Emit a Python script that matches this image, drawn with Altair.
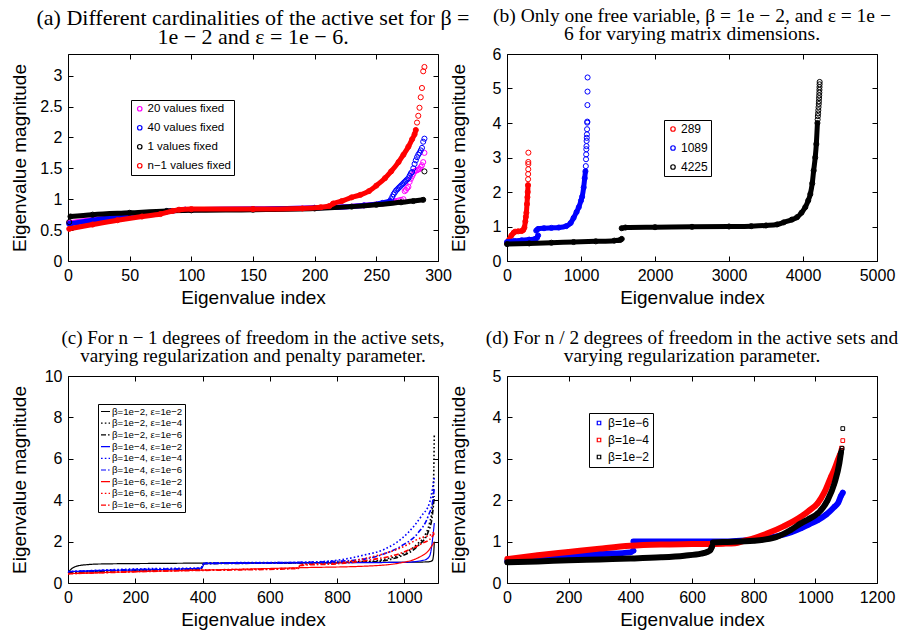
import altair as alt
import pandas as pd

# ---------------- (a) ----------------
A_NAMES = ["20 values fixed", "40 values fixed", "1 values fixed", "n−1 values fixed"]
A_COLORS = ["#ff00ff", "#0000ff", "#000000", "#ff0000"]

a20_idx = [1, 20, 50, 80, 95, 150, 200, 240, 255, 265]
a20_val = [0.62, 0.67, 0.74, 0.80, 0.83, 0.84, 0.86, 0.90, 0.93, 0.96]
a20_tail_idx = [266, 268, 270, 272, 273, 274, 275, 276, 277, 278, 279, 280, 281, 282, 283, 284, 285, 286, 287, 288, 289]
a20_tail_val = [0.97, 0.98, 0.99, 1.00, 1.13, 1.15, 1.18, 1.20, 1.28, 1.33, 1.37, 1.41, 1.45, 1.46, 1.47, 1.48, 1.49, 1.52, 1.55, 1.60, 1.75]

a40_idx = [1, 20, 50, 80, 95, 150, 200, 240, 255, 261]
a40_val = [0.60, 0.66, 0.74, 0.80, 0.83, 0.84, 0.86, 0.90, 0.94, 0.97]
a40_tail_idx = [262, 263, 264, 265, 266, 267, 268, 269, 270, 271, 272, 273, 274, 275, 276, 277, 278, 279, 280, 281, 282, 283, 284, 285, 286, 287, 288, 289]
a40_tail_val = [1.00, 1.04, 1.08, 1.11, 1.14, 1.16, 1.18, 1.20, 1.22, 1.24, 1.26, 1.28, 1.30, 1.32, 1.34, 1.38, 1.42, 1.44, 1.50, 1.57, 1.63, 1.68, 1.72, 1.75, 1.79, 1.83, 1.93, 1.98]

a1_idx = [2, 20, 50, 80, 100, 150, 200, 230, 250, 270, 280, 288]
a1_val = [0.72, 0.75, 0.78, 0.81, 0.82, 0.83, 0.85, 0.88, 0.91, 0.95, 0.97, 0.99]
a1_tail_idx = [1, 289]
a1_tail_val = [0.63, 1.45]

an_idx = [1, 20, 40, 60, 75, 85, 90, 100, 150, 190, 205, 212, 215, 222, 230, 237, 244, 250, 257, 262, 268, 272, 276, 279, 281, 282]
an_val = [0.52, 0.59, 0.66, 0.72, 0.76, 0.81, 0.83, 0.84, 0.84, 0.85, 0.87, 0.89, 0.93, 0.97, 1.03, 1.07, 1.13, 1.22, 1.34, 1.45, 1.60, 1.72, 1.85, 1.97, 2.05, 2.12]
an_tail_idx = [283, 284, 285, 286, 287, 288, 289]
an_tail_val = [2.24, 2.35, 2.48, 2.65, 2.80, 3.07, 3.14]

# ---------------- (b) ----------------
B_NAMES = ["289", "1089", "4225"]
B_COLORS = ["#ff0000", "#0000ff", "#000000"]

b289_idx = [1, 30, 60, 90, 110, 150, 200, 220, 235, 248, 255, 262, 270, 276, 280, 284]
b289_val = [0.52, 0.62, 0.74, 0.82, 0.85, 0.86, 0.87, 0.90, 0.97, 1.15, 1.28, 1.40, 1.65, 1.85, 2.00, 2.20]
b289_tail_idx = [285, 286, 287, 288, 288, 289]
b289_tail_val = [2.37, 2.52, 2.66, 2.81, 2.87, 3.14]

b1089_s1_idx = [1, 100, 200, 300, 380, 405, 420]
b1089_s1_val = [0.55, 0.58, 0.60, 0.62, 0.64, 0.67, 0.74]
b1089_s2_idx = [395, 420, 500, 600, 700, 800, 860, 900, 940, 970, 1000, 1015, 1036, 1050, 1060]
b1089_s2_val = [0.88, 0.93, 0.95, 0.96, 0.97, 1.01, 1.10, 1.25, 1.42, 1.56, 1.75, 1.86, 2.13, 2.40, 2.60]
b1089_tail_idx = [1065, 1068, 1070, 1072, 1074, 1076, 1078, 1080, 1082, 1084, 1085, 1087, 1088, 1089]
b1089_tail_val = [2.75, 2.95, 3.09, 3.24, 3.33, 3.48, 3.57, 3.67, 3.82, 4.01, 4.04, 4.52, 4.91, 5.32]

b4225_s1_idx = [1, 300, 600, 900, 1200, 1450, 1530, 1550]
b4225_s1_val = [0.49, 0.51, 0.53, 0.55, 0.57, 0.59, 0.61, 0.64]
b4225_s2_idx = [1550, 1600, 2000, 2500, 3000, 3300, 3500, 3650, 3740, 3850, 3920, 3980, 4031, 4070, 4099, 4125, 4144, 4165, 4180, 4195]
b4225_s2_val = [0.95, 0.97, 0.98, 0.99, 1.00, 1.01, 1.03, 1.06, 1.12, 1.20, 1.27, 1.40, 1.56, 1.75, 1.94, 2.25, 2.62, 3.00, 3.39, 4.00]
b4225_tail_idx = [4198, 4201, 4204, 4207, 4210, 4213, 4215, 4217, 4219, 4221, 4222, 4223, 4224, 4225]
b4225_tail_val = [4.10, 4.20, 4.28, 4.37, 4.46, 4.55, 4.63, 4.72, 4.80, 4.88, 4.96, 5.04, 5.12, 5.19]

# ---------------- (c) ----------------
C_NAMES = ["β=1e−2, ε=1e−2", "β=1e−2, ε=1e−4", "β=1e−2, ε=1e−6",
           "β=1e−4, ε=1e−2", "β=1e−4, ε=1e−4", "β=1e−4, ε=1e−6",
           "β=1e−6, ε=1e−2", "β=1e−6, ε=1e−4", "β=1e−6, ε=1e−6"]
C_COLORS = ["#000000"] * 3 + ["#0000ff"] * 3 + ["#ff0000"] * 3
C_DASHES = [[1, 0], [1.6, 2.2], [5, 2, 1.6, 2]] * 3

c1_idx = [0, 10, 30, 60, 100, 300, 600, 1000, 1070, 1083, 1087, 1089]
c1_val = [0.50, 0.68, 0.83, 0.89, 0.92, 0.95, 0.98, 1.00, 1.02, 1.08, 1.40, 2.00]
c2_idx = [0, 100, 300, 395, 405, 700, 900, 950, 1000, 1040, 1060, 1075, 1083, 1087, 1089]
c2_val = [0.50, 0.58, 0.66, 0.70, 0.95, 0.98, 1.05, 1.18, 1.45, 1.90, 2.27, 2.90, 3.60, 5.00, 7.20]
c3_idx = [0, 100, 300, 395, 405, 700, 900, 990, 1040, 1070, 1083, 1089]
c3_val = [0.50, 0.57, 0.64, 0.68, 0.93, 0.97, 1.02, 1.30, 1.79, 2.43, 3.24, 4.20]
c4_idx = [0, 100, 300, 395, 400, 405, 600, 1000, 1060, 1075, 1085, 1089]
c4_val = [0.55, 0.60, 0.66, 0.72, 0.78, 0.93, 0.96, 1.00, 1.11, 1.30, 2.27, 2.90]
c5_idx = [0, 200, 395, 405, 700, 800, 880, 941, 1011, 1051, 1075, 1085, 1089]
c5_val = [0.55, 0.68, 0.73, 0.97, 1.00, 1.10, 1.35, 1.63, 2.43, 3.24, 3.88, 4.69, 5.10]
c6_idx = [0, 200, 395, 405, 700, 850, 930, 991, 1041, 1071, 1085, 1089]
c6_val = [0.55, 0.65, 0.70, 0.95, 1.00, 1.10, 1.35, 1.79, 2.43, 3.24, 4.04, 4.60]
c7_idx = [0, 200, 400, 693, 892, 991, 1041, 1071, 1085, 1089]
c7_val = [0.45, 0.55, 0.62, 0.74, 0.82, 0.98, 1.22, 1.55, 1.87, 1.95]
c8_idx = [0, 300, 685, 690, 800, 892, 991, 1051, 1081, 1089]
c8_val = [0.45, 0.60, 0.72, 0.88, 0.97, 1.22, 1.71, 2.19, 2.35, 2.50]
c9_idx = [0, 300, 685, 690, 800, 892, 991, 1051, 1081, 1089]
c9_val = [0.45, 0.58, 0.70, 0.85, 0.93, 1.10, 1.45, 1.90, 2.20, 2.40]

# ---------------- (d) ----------------
D_NAMES = ["β=1e−6", "β=1e−4", "β=1e−2"]
D_COLORS = ["#0000ff", "#ff0000", "#000000"]

d6_s1_idx = [1, 100, 200, 300, 400, 410]
d6_s1_val = [0.53, 0.60, 0.65, 0.70, 0.74, 0.78]
d6_s2_idx = [410, 500, 600, 700, 800, 870, 920, 953, 980, 1008, 1035, 1062, 1075, 1083, 1089]
d6_s2_val = [1.00, 1.00, 1.00, 1.00, 1.05, 1.12, 1.22, 1.32, 1.42, 1.52, 1.65, 1.84, 1.95, 2.10, 2.18]

d4_idx = [1, 100, 200, 300, 400, 500, 600, 700, 740, 770, 800, 845, 900, 953, 980, 1008, 1030, 1051, 1062, 1072, 1080]
d4_val = [0.58, 0.67, 0.75, 0.83, 0.90, 0.93, 0.94, 0.95, 0.96, 1.02, 1.08, 1.20, 1.38, 1.60, 1.75, 1.93, 2.20, 2.57, 2.75, 2.95, 3.10]
d4_tail_idx = [1083, 1085, 1089]
d4_tail_val = [3.20, 3.26, 3.44]

d2_s1_idx = [1, 100, 200, 300, 400, 500, 575, 630, 650, 660, 665]
d2_s1_val = [0.50, 0.52, 0.55, 0.57, 0.59, 0.62, 0.66, 0.71, 0.75, 0.80, 0.88]
d2_s2_idx = [668, 700, 800, 870, 920, 953, 980, 1008, 1040, 1062, 1078, 1083]
d2_s2_val = [0.98, 0.99, 1.02, 1.10, 1.28, 1.44, 1.55, 1.68, 2.00, 2.41, 2.90, 3.15]
d2_tail_idx = [1085, 1087, 1089]
d2_tail_val = [3.20, 3.25, 3.73]

W, H = 370, 207
SANS = "Liberation Sans"
SERIF = "Liberation Serif"


def scales(xd, yd):
    return (alt.Scale(domain=xd, nice=False, zero=False),
            alt.Scale(domain=yd, nice=False, zero=False))


def frame_layers(xs, ys, xvals, yvals, xfmt, yfmt):
    df = pd.DataFrame({"idx": [xs.domain[0]], "val": [ys.domain[0]]})
    common = dict(offset=-5, tickSize=5, domain=False, grid=False, ticks=True,
                  labelFlush=False, labelOverlap=False)
    main = alt.Chart(df).mark_point(opacity=0).encode(
        x=alt.X("idx:Q", scale=xs, axis=alt.Axis(orient="bottom", values=xvals, format=xfmt,
                                                title="Eigenvalue index", titleY=47,
                                                titleBaseline="alphabetic", labelPadding=6, **common)),
        y=alt.Y("val:Q", scale=ys, axis=alt.Axis(orient="left", values=yvals, format=yfmt,
                                                title="Eigenvalue magnitude", titleX=-48,
                                                titleBaseline="alphabetic", labelPadding=6, **common)),
    )
    mirror = alt.Chart(df).mark_point(opacity=0).encode(
        x=alt.X("idx:Q", scale=xs, axis=alt.Axis(orient="top", values=xvals, labels=False, title=None, **common)),
        y=alt.Y("val:Q", scale=ys, axis=alt.Axis(orient="right", values=yvals, labels=False, title=None, **common)),
    )
    return [main, mirror]


def scatter_layers(xs, ys, names, colors, series, legend, shape, size, band_w):
    cscale = alt.Scale(domain=names, range=colors)
    layers = []
    for name, bands, tail in series:
        parts = []
        for k, (bi, bv) in enumerate(bands):
            parts.append(pd.DataFrame({"idx": bi, "val": bv, "series": name, "seg": k}))
        enc = dict(x=alt.X("idx:Q", scale=xs, axis=None),
                   y=alt.Y("val:Q", scale=ys, axis=None),
                   color=alt.Color("series:N", scale=cscale, legend=legend))
        band_df = pd.concat(parts, ignore_index=True)
        layers.append(alt.Chart(band_df).mark_line(strokeWidth=band_w, interpolate="monotone",
                                                   strokeCap="round", strokeJoin="round")
                      .encode(detail="seg:N", **enc))
        pts = [band_df[["idx", "val", "series"]]]
        if tail[0]:
            pts.append(pd.DataFrame({"idx": tail[0], "val": tail[1], "series": name}))
        layers.append(alt.Chart(pd.concat(pts, ignore_index=True))
                      .mark_point(shape=shape, filled=False, size=size, strokeWidth=1, opacity=1)
                      .encode(**enc))
    return layers


def title(lines, fs=19, lh=18):
    return alt.TitleParams(text=lines, font=SERIF, fontSize=fs, fontWeight="normal",
                           anchor="middle", frame="group", baseline="bottom", lineHeight=lh,
                           offset=-17, color="black")


def legend(x, y, stype, ssize, fsize, rowpad, pad, loff):
    return alt.Legend(orient="none", legendX=x, legendY=y, title=None, symbolType=stype,
                      symbolSize=ssize, symbolStrokeWidth=1.2, labelFont=SANS, labelFontSize=fsize,
                      labelColor="black", rowPadding=rowpad, padding=pad, labelOffset=loff,
                      strokeColor="black", fillColor="white", symbolFillColor="transparent")


# panel (a)
xa, ya = scales([0, 300], [0, 3.35])
pa = alt.layer(
    *frame_layers(xa, ya, list(range(0, 301, 50)), [0, 0.5, 1, 1.5, 2, 2.5, 3], "d", ".1~f"),
    *scatter_layers(xa, ya, A_NAMES, A_COLORS, [
        (A_NAMES[0], [(a20_idx, a20_val)], (a20_tail_idx, a20_tail_val)),
        (A_NAMES[1], [(a40_idx, a40_val)], (a40_tail_idx, a40_tail_val)),
        (A_NAMES[2], [(a1_idx, a1_val)], (a1_tail_idx, a1_tail_val)),
        (A_NAMES[3], [(an_idx, an_val)], (an_tail_idx, an_tail_val)),
    ], legend(63, 46, "circle", 20, 11.5, 6, 3, 2), "circle", 26, 5),
).resolve_axis(x="independent", y="independent").properties(
    width=W, height=H,
    title=title(["(a) Different cardinalities of the active set for β =", "1e − 2 and ε = 1e − 6."], 22, 19))

# panel (b)
xb, yb = scales([0, 5000], [0, 6])
pb = alt.layer(
    *frame_layers(xb, yb, list(range(0, 5001, 1000)), list(range(0, 7)), "d", "d"),
    *scatter_layers(xb, yb, B_NAMES, B_COLORS, [
        (B_NAMES[0], [(b289_idx, b289_val)], (b289_tail_idx, b289_tail_val)),
        (B_NAMES[1], [(b1089_s1_idx, b1089_s1_val), (b1089_s2_idx, b1089_s2_val)], (b1089_tail_idx, b1089_tail_val)),
        (B_NAMES[2], [(b4225_s1_idx, b4225_s1_val), (b4225_s2_idx, b4225_s2_val)], (b4225_tail_idx, b4225_tail_val)),
    ], legend(157, 66, "circle", 20, 12, 7, 3, 2), "circle", 26, 5),
).resolve_axis(x="independent", y="independent").properties(
    width=W, height=H,
    title=title(["(b) Only one free variable, β = 1e − 2, and ε = 1e −", "6 for varying matrix dimensions."], 19.5))

# panel (c)
xc, yc = scales([0, 1100], [0, 10])
cscale = alt.Scale(domain=C_NAMES, range=C_COLORS)
dscale = alt.Scale(domain=C_NAMES, range=C_DASHES)
c_leg = legend(30, 28, "stroke", 81, 9.7, 0.7, 2, 1)
c_layers = []
for i, (ci, cv) in enumerate([(c1_idx, c1_val), (c2_idx, c2_val), (c3_idx, c3_val),
                              (c4_idx, c4_val), (c5_idx, c5_val), (c6_idx, c6_val),
                              (c7_idx, c7_val), (c8_idx, c8_val), (c9_idx, c9_val)]):
    df = pd.DataFrame({"idx": ci, "val": cv, "series": C_NAMES[i]})
    c_layers.append(alt.Chart(df).mark_line(strokeWidth=1.2 if i % 3 == 0 else 1.6, interpolate="monotone")
                    .encode(x=alt.X("idx:Q", scale=xc, axis=None),
                            y=alt.Y("val:Q", scale=yc, axis=None),
                            color=alt.Color("series:N", scale=cscale, legend=c_leg),
                            strokeDash=alt.StrokeDash("series:N", scale=dscale, legend=c_leg)))
pc = alt.layer(
    *frame_layers(xc, yc, list(range(0, 1001, 200)), list(range(0, 11, 2)), "d", "d"),
    *c_layers,
).resolve_axis(x="independent", y="independent").properties(
    width=W, height=H,
    title=title(["(c) For n − 1 degrees of freedom in the active sets,", "varying regularization and penalty parameter."]))

# panel (d)
xd, yd = scales([0, 1200], [0, 5])
pd_ = alt.layer(
    *frame_layers(xd, yd, list(range(0, 1201, 200)), list(range(0, 6)), "d", "d"),
    *scatter_layers(xd, yd, D_NAMES, D_COLORS, [
        (D_NAMES[0], [(d6_s1_idx, d6_s1_val), (d6_s2_idx, d6_s2_val)], ([], [])),
        (D_NAMES[1], [(d4_idx, d4_val)], (d4_tail_idx, d4_tail_val)),
        (D_NAMES[2], [(d2_s1_idx, d2_s1_val), (d2_s2_idx, d2_s2_val)], (d2_tail_idx, d2_tail_val)),
    ], legend(82, 37, "square", 12, 12, 5, 4, 3), "square", 14, 6),
).resolve_axis(x="independent", y="independent").properties(
    width=W, height=H,
    title=title(["(d) For n / 2 degrees of freedom in the active sets and", "varying regularization parameter."], 19.3))

chart = alt.concat(pa, pb, pc, pd_, columns=2).resolve_scale(
    x="independent", y="independent", color="independent", strokeDash="independent"
).resolve_legend(color="independent", strokeDash="independent").properties(
    bounds="flush", spacing={"row": 115, "column": 69},
    padding={"left": 9, "top": 5, "right": 0, "bottom": 0}, background="white",
).configure_view(stroke="black", strokeWidth=1).configure_axis(
    labelFont=SANS, labelFontSize=16, labelColor="black", titleFont=SANS, titleFontSize=19,
    titleFontWeight="normal", titleColor="black", tickColor="black", tickWidth=1,
).configure_legend(cornerRadius=0, strokeWidth=1)

chart.save("out.html", embed_options={"renderer": "svg", "actions": False})
